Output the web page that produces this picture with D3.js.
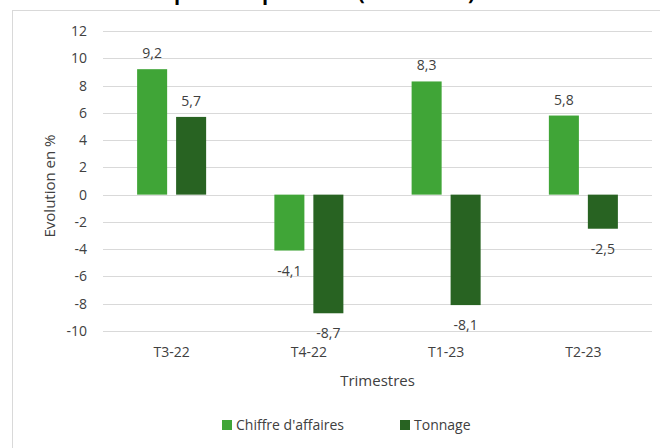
<!DOCTYPE html>
<html>
<head>
<meta charset="utf-8">
<script src="https://cdn.jsdelivr.net/npm/d3@7"></script>
<style>
  body { margin: 0; background: #fff; }
  text { font-family: "Open Sans", sans-serif; fill: #404040; }
</style>
</head>
<body>
<div id="chart"></div>
<script>
const w = 660;
const h = 448;

// data
const trimestres = ["T3-22", "T4-22", "T1-23", "T2-23"];
const series = ["Chiffre d'affaires", "Tonnage"];
const chiffre = [9.2, -4.1, 8.3, 5.8];
const tonnage = [5.7, -8.7, -8.1, -2.5];
const yTicks = [-10, -8, -6, -4, -2, 0, 2, 4, 6, 8, 10, 12];
const colors = ["#40a537", "#286322"];
// title is cut off at the top of the picture, only descenders show
const titleParts = [["Evolution", 50], ["par", 174], ["période", 262], ["(en vol.", 358], [")", 468]];

const margin = { top: 31, right: 8, bottom: 117, left: 103 };

const fmt = v => String(v).replace(".", ",");

const svg = d3.select("#chart").append("svg")
    .attr("width", w)
    .attr("height", h);

svg.append("text")
    .attr("y", 0)
    .style("font-size", "20px")
    .style("font-weight", "bold")
    .style("fill", "#000")
    .selectAll("tspan")
    .data(titleParts)
    .enter()
    .append("tspan")
    .attr("x", d => d[1])
    .text(d => d[0]);

svg.append("rect")
    .attr("x", 12.5)
    .attr("y", 10.5)
    .attr("width", 700)
    .attr("height", 500)
    .attr("fill", "#fff")
    .attr("stroke", "#d9d9d9");

const xScale = d3.scaleBand()
    .domain(trimestres)
    .range([margin.left, w - margin.right]);

const xInner = d3.scaleBand()
    .domain(series)
    .range([0, xScale.bandwidth()])
    .paddingInner(0.23)
    .paddingOuter(0.875);

const yScale = d3.scaleLinear()
    .domain([-10, 12])
    .range([h - margin.bottom, margin.top]);

// grid
svg.append("g")
    .selectAll("line")
    .data(yTicks)
    .enter()
    .append("line")
    .attr("x1", margin.left)
    .attr("x2", w - margin.right)
    .attr("y1", d => Math.round(yScale(d)) + 0.5)
    .attr("y2", d => Math.round(yScale(d)) + 0.5)
    .attr("stroke", "#d9d9d9");

const yAxis = d3.axisLeft(yScale).tickValues(yTicks).tickSize(0).tickPadding(10).tickFormat(fmt);
svg.append("g")
    .attr("transform", "translate(" + (margin.left - 6) + ",0)")
    .call(yAxis)
    .call(g => g.select(".domain").remove())
    .selectAll("text")
    .style("font-size", "14px")
    .style("font-family", "Open Sans, sans-serif")
    .attr("fill", "#404040");

const xAxis = d3.axisBottom(xScale).tickSize(0).tickPadding(8);
svg.append("g")
    .attr("transform", "translate(0," + (h - margin.bottom + 8) + ")")
    .call(xAxis)
    .call(g => g.select(".domain").remove())
    .selectAll("text")
    .style("font-size", "14px")
    .style("font-family", "Open Sans, sans-serif")
    .attr("fill", "#404040");

const rows = trimestres.map((t, i) => ({ t: t, vals: [chiffre[i], tonnage[i]] }));

const groups = svg.append("g")
    .selectAll("g")
    .data(rows)
    .enter()
    .append("g")
    .attr("transform", d => "translate(" + xScale(d.t) + ",0)");

const bars = groups.selectAll("g")
    .data(d => d.vals.map((v, j) => ({ s: series[j], v: v, j: j })))
    .enter()
    .append("g");

bars.append("rect")
    .attr("x", d => xInner(d.s))
    .attr("width", xInner.bandwidth())
    .attr("y", d => yScale(Math.max(0, d.v)))
    .attr("height", d => Math.abs(yScale(d.v) - yScale(0)))
    .style("fill", d => colors[d.j]);

bars.append("text")
    .attr("x", d => xInner(d.s) + xInner.bandwidth() / 2)
    .attr("y", d => d.v >= 0 ? yScale(d.v) - 11 : yScale(d.v) + 25)
    .attr("text-anchor", "middle")
    .style("font-size", "14px")
    .text(d => fmt(d.v));

// axis titles
svg.append("text")
    .attr("transform", "translate(55," + (yScale(1) + 5) + ") rotate(-90)")
    .attr("text-anchor", "middle")
    .style("font-size", "15px")
    .text("Evolution en %");

svg.append("text")
    .attr("x", (margin.left + w - margin.right) / 2)
    .attr("y", 386)
    .attr("text-anchor", "middle")
    .style("font-size", "15px")
    .text("Trimestres");

// legend
const legend = svg.append("g")
    .selectAll("g")
    .data(series)
    .enter()
    .append("g")
    .attr("transform", (d, i) => "translate(" + [222, 400][i] + ",425)");

legend.append("rect")
    .attr("x", 0)
    .attr("y", -5)
    .attr("width", 10)
    .attr("height", 10)
    .style("fill", (d, i) => colors[i]);

legend.append("text")
    .attr("x", 14)
    .attr("y", 5)
    .style("font-size", "14px")
    .text(d => d);
</script>
</body>
</html>
